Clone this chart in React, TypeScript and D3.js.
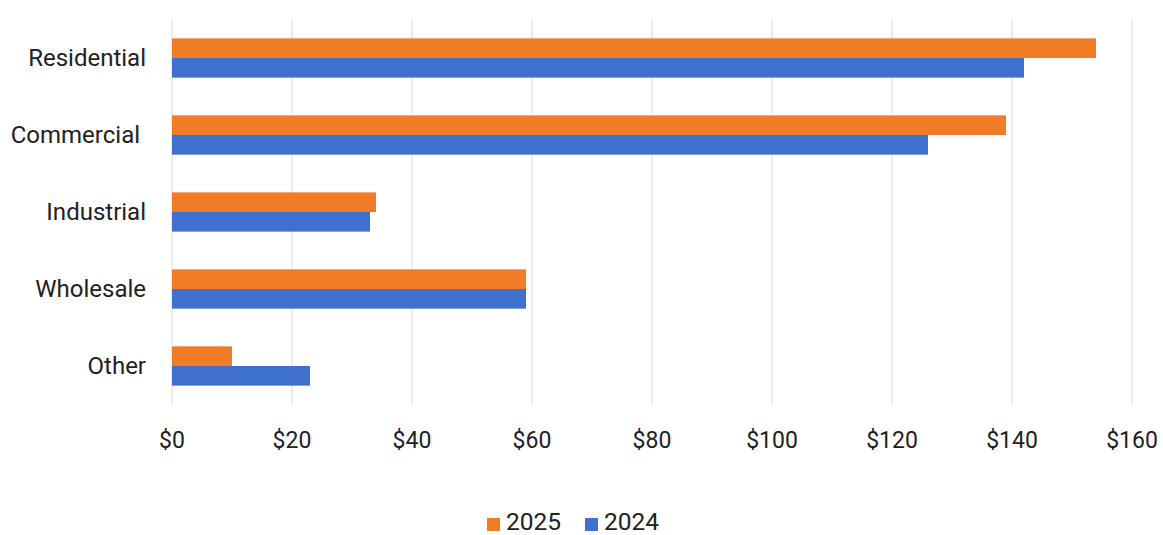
import React from "react";
import * as d3 from "d3";

const categories = ["Residential", "Commercial ", "Industrial", "Wholesale", "Other"];
const series = ["2025", "2024"];
const values2025 = [154, 139, 34, 59, 10];
const values2024 = [142, 126, 33, 59, 23];
const xTicks = [0, 20, 40, 60, 80, 100, 120, 140, 160];
const colors = ["#F27B28", "#3F6FCF"];

const W = 1163;
const H = 535;
const left = 172;
const right = 1132;
const top = 19.5;
const bottom = 404.5;
const FONT = "Roboto, 'Noto Sans', sans-serif";

export default function App() {
  const x = d3.scaleLinear().domain([0, 160]).range([left, right]);
  const y = d3.scaleBand().domain(categories).range([top, bottom]).paddingInner(0.49).paddingOuter(0.245);
  const sub = d3.scaleBand().domain(series).range([0, y.bandwidth()]);
  const data = [values2025, values2024];

  return (
    <svg width={W} height={H} style={{ position: "absolute", left: 0, top: 0, background: "#fff" }}>
      <rect width={W} height={H} fill="#fff" />
      {xTicks.map((t) => (
        <line key={t} x1={x(t)} x2={x(t)} y1={top} y2={bottom} stroke="#d9d9d9" strokeWidth={1} />
      ))}
      {categories.map((c, i) =>
        series.map((s, j) => (
          <rect
            key={c + s}
            x={x(0)}
            y={(y(c) as number) + (sub(s) as number)}
            width={x(data[j][i]) - x(0)}
            height={sub.bandwidth()}
            fill={colors[j]}
          />
        ))
      )}
      {categories.map((c) => (
        <text
          key={c}
          x={146}
          y={(y(c) as number) + y.bandwidth() / 2}
          textAnchor="end"
          dominantBaseline="central"
          fontFamily={FONT}
          fontSize={24}
          fill="#222"
          style={{ whiteSpace: "pre" }}
        >
          {c}
        </text>
      ))}
      {xTicks.map((t) => (
        <text
          key={t}
          x={x(t)}
          y={440}
          textAnchor="middle"
          dominantBaseline="central"
          fontFamily={FONT}
          fontSize={23}
          fill="#222"
        >
          {"$" + t}
        </text>
      ))}
      <g>
        <rect x={487} y={518} width={13} height={13} fill={colors[0]} />
        <text x={506} y={530} fontFamily={FONT} fontSize={24.5} fill="#222">
          {series[0]}
        </text>
        <rect x={585} y={518} width={13} height={13} fill={colors[1]} />
        <text x={604} y={530} fontFamily={FONT} fontSize={24.5} fill="#222">
          {series[1]}
        </text>
      </g>
    </svg>
  );
}
